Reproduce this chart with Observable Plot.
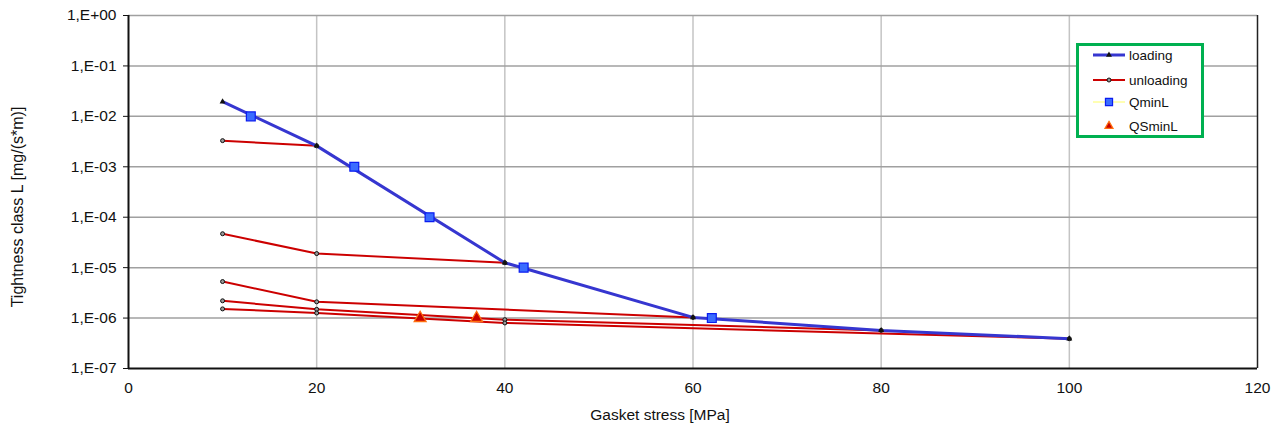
<!DOCTYPE html>
<html>
<head>
<meta charset="utf-8">
<script src="https://cdn.jsdelivr.net/npm/d3@7"></script>
<script src="https://cdn.jsdelivr.net/npm/@observablehq/plot@0.6"></script>
<style>
  body { margin: 0; background: white; font-family: "Liberation Sans", Arial, sans-serif; }
  #wrap { position: relative; width: 1280px; height: 430px; }
  #legend { position: absolute; left: 1075px; top: 42px; }
</style>
</head>
<body>
<div id="wrap"></div>
<script>
// ---- data ----
const xTicks = [0, 20, 40, 60, 80, 100, 120];
const yTicks = [1e-7, 1e-6, 1e-5, 1e-4, 1e-3, 1e-2, 1e-1, 1];

const loadingStress = [10, 20, 40, 60, 80, 100];
const loadingL = [0.0195, 0.0026, 1.25e-5, 1.03e-6, 5.7e-7, 3.9e-7];

const unloading1Stress = [10, 20];
const unloading1L = [3.3e-3, 2.6e-3];
const unloading2Stress = [10, 20, 40];
const unloading2L = [4.7e-5, 1.9e-5, 1.25e-5];
const unloading3Stress = [10, 20, 60];
const unloading3L = [5.3e-6, 2.1e-6, 1.03e-6];
const unloading4Stress = [10, 20, 40, 80];
const unloading4L = [2.2e-6, 1.49e-6, 9.3e-7, 5.7e-7];
const unloading5Stress = [10, 20, 40, 100];
const unloading5L = [1.52e-6, 1.26e-6, 8.0e-7, 3.9e-7];

const qminStress = [13, 24, 32, 42, 62];
const qminL = [1e-2, 1e-3, 1e-4, 1e-5, 1e-6];
const qsminStress = [31, 37];
const qsminL = [1e-6, 1e-6];

const legendLabels = ["loading", "unloading", "QminL", "QSminL"];

// ---- build tables ----
const zip = (xs, ys, extra = {}) => xs.map((x, i) => ({x, y: ys[i], ...extra}));
const loading = zip(loadingStress, loadingL);
const unloading = [
  zip(unloading1Stress, unloading1L, {s: 1}),
  zip(unloading2Stress, unloading2L, {s: 2}),
  zip(unloading3Stress, unloading3L, {s: 3}),
  zip(unloading4Stress, unloading4L, {s: 4}),
  zip(unloading5Stress, unloading5L, {s: 5})
].flat();
const qmin = zip(qminStress, qminL);
const qsmin = zip(qsminStress, qsminL);

const fmtE = d => {
  const e = Math.round(Math.log10(d));
  return "1,E" + (e >= 0 ? "+" : "-") + String(Math.abs(e)).padStart(2, "0");
};

const FONT = '"Liberation Sans", Arial, sans-serif';
const BLUE = "#3636d0", RED = "#cc0000";

const chart = Plot.plot({
  width: 1280,
  height: 430,
  marginLeft: 128,
  marginRight: 23,
  marginTop: 15,
  marginBottom: 62,
  style: {fontFamily: FONT, fontSize: "15.5px", background: "white", color: "#111"},
  x: {domain: [0, 120]},
  y: {type: "log", domain: [1e-7, 1]},
  marks: [
    Plot.ruleX(xTicks.slice(1, -1), {stroke: "#c4c4c4", strokeWidth: 1.5}),
    Plot.ruleY(yTicks.slice(1), {stroke: "#a0a0a0", strokeWidth: 1.5}),
    Plot.axisY({ticks: yTicks, tickFormat: fmtE, tickSize: 5, tickPadding: 7, fontSize: 15.5, label: null, stroke: "#111"}),
    Plot.axisX({ticks: xTicks, tickSize: 0, tickPadding: 13, fontSize: 15.5, label: null}),
    Plot.ruleX([0], {stroke: "#111", strokeWidth: 2}),
    Plot.ruleX([120], {stroke: "#222", strokeWidth: 1.5}),
    Plot.ruleY([1e-7], {stroke: "#111", strokeWidth: 2}),
    Plot.line(unloading, {x: "x", y: "y", z: "s", stroke: RED, strokeWidth: 2}),
    Plot.line(loading, {x: "x", y: "y", stroke: BLUE, strokeWidth: 3}),
    Plot.dot(unloading, {x: "x", y: "y", r: 2, fill: "#999", stroke: "#111", strokeWidth: 1}),
    Plot.dot(loading, {x: "x", y: "y", symbol: "triangle", r: 2.2, fill: "#111"}),
    Plot.dot(qmin, {x: "x", y: "y", symbol: "square", r: 5, fill: "#3a6cff", stroke: "#0a1cf0", strokeWidth: 1.2}),
    Plot.dot(qsmin, {x: "x", y: "y", symbol: "triangle", r: 4.4, fill: "#c80000", stroke: "#ff7010", strokeWidth: 1.3}),
    Plot.text(["Gasket stress [MPa]"], {frameAnchor: "bottom", textAnchor: "middle", dx: -33, dy: 51, fontSize: 15.5, fill: "#111"}),
    Plot.text(["Tightness class L [mg/(s*m)]"], {frameAnchor: "left", textAnchor: "middle", dx: -111, dy: 15, rotate: -90, fontSize: 16, fill: "#111"})
  ]
});

const wrap = document.getElementById("wrap");
wrap.appendChild(chart);

// ---- legend (HTML overlay with small swatches) ----
const ns = "http://www.w3.org/2000/svg";
const lg = document.createElementNS(ns, "svg");
lg.setAttribute("id", "legend");
lg.setAttribute("width", 130);
lg.setAttribute("height", 98);
const add = (tag, attrs) => {
  const el = document.createElementNS(ns, tag);
  for (const k in attrs) el.setAttribute(k, attrs[k]);
  lg.appendChild(el);
  return el;
};
add("rect", {x: 2.5, y: 2.5, width: 125, height: 92, fill: "white", stroke: "#00b050", "stroke-width": 3});
const rows = [13, 38, 60, 84];
// loading
add("line", {x1: 18, x2: 50, y1: rows[0], y2: rows[0], stroke: BLUE, "stroke-width": 3});
add("path", {d: d3.symbol(d3.symbolTriangle, Math.PI * 2.2 * 2.2)(), transform: `translate(34,${rows[0]})`, fill: "#111"});
// unloading
add("line", {x1: 18, x2: 50, y1: rows[1], y2: rows[1], stroke: RED, "stroke-width": 2});
add("circle", {cx: 34, cy: rows[1], r: 2, fill: "#999", stroke: "#111", "stroke-width": 1});
// QminL
add("line", {x1: 18, x2: 50, y1: rows[2], y2: rows[2], stroke: "#ffff66", "stroke-width": 1});
add("path", {d: d3.symbol(d3.symbolSquare, Math.PI * 16)(), transform: `translate(34,${rows[2]})`, fill: "#3a6cff", stroke: "#0a1cf0", "stroke-width": 1.2});
// QSminL
add("path", {d: d3.symbol(d3.symbolTriangle, Math.PI * 3 * 3)(), transform: `translate(34,${rows[3]})`, fill: "#c80000", stroke: "#ff7010", "stroke-width": 1.2});
legendLabels.forEach((t, i) => {
  const tx = add("text", {x: 54, y: rows[i], dy: "0.35em", "font-size": 13.5, "font-family": FONT, fill: "#111"});
  tx.textContent = t;
});
wrap.appendChild(lg);
</script>
</body>
</html>
